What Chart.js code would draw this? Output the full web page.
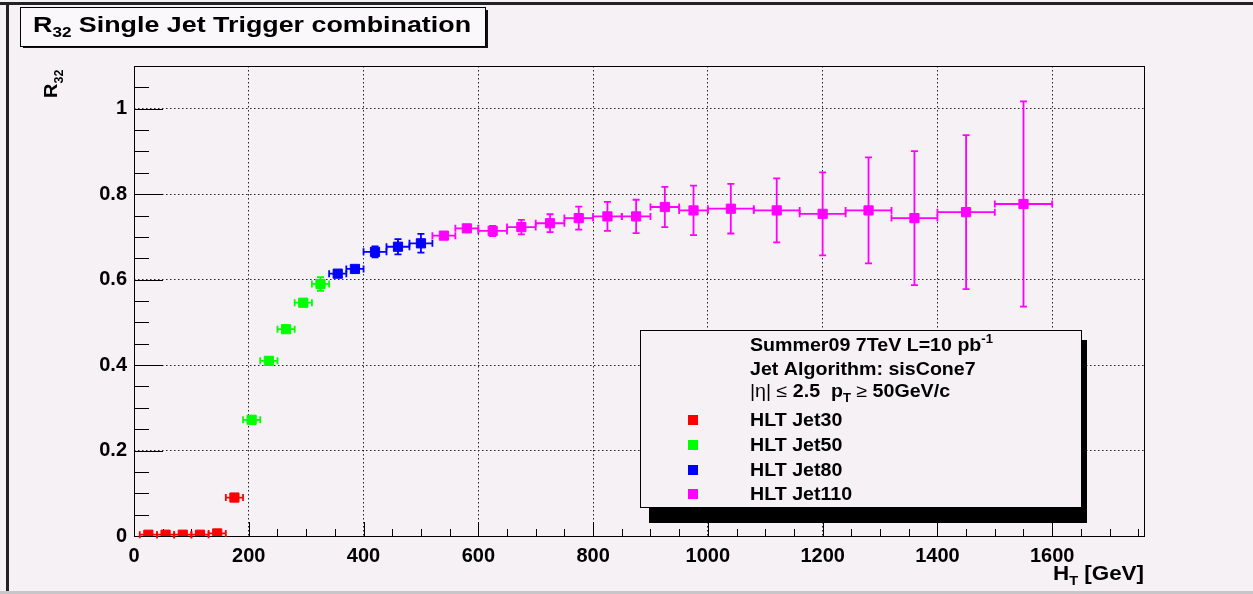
<!DOCTYPE html>
<html>
<head>
<meta charset="utf-8">
<script src="https://cdn.jsdelivr.net/npm/chart.js@4.4.1/dist/chart.umd.min.js"></script>
<style>
  html, body { margin: 0; padding: 0; background: #f5f1f5; }
</style>
</head>
<body>
<canvas id="r32Chart" width="1253" height="594"></canvas>
<script>
const FONT = '"Liberation Sans", Arial, Helvetica, sans-serif';

// HLT Jet30
const jet30X = [25, 55, 85, 115, 145, 175];
const jet30XErr = [15, 15, 15, 15, 15, 15];
const jet30Y = [0.003, 0.003, 0.003, 0.003, 0.006, 0.090];
const jet30YErr = [0.002, 0.002, 0.002, 0.002, 0.003, 0.005];

// HLT Jet50
const jet50X = [205, 235, 265, 295, 325];
const jet50XErr = [15, 15, 15, 15, 15];
const jet50Y = [0.272, 0.410, 0.484, 0.546, 0.590];
const jet50YErr = [0.004, 0.005, 0.006, 0.008, 0.016];

// HLT Jet80
const jet80X = [355, 385, 420, 460, 500];
const jet80XErr = [15, 15, 20, 20, 20];
const jet80Y = [0.614, 0.625, 0.665, 0.677, 0.685];
const jet80YErr = [0.005, 0.008, 0.013, 0.018, 0.022];

// HLT Jet110
const jet110X = [540, 580, 625, 675, 725, 775, 825, 875, 925, 975, 1040, 1120, 1200, 1280, 1360, 1450, 1550];
const jet110XErr = [20, 20, 25, 25, 25, 25, 25, 25, 25, 25, 40, 40, 40, 40, 40, 50, 50];
const jet110Y = [0.703, 0.720, 0.714, 0.723, 0.732, 0.744, 0.748, 0.748, 0.770, 0.762, 0.766, 0.762, 0.754, 0.762, 0.744, 0.758, 0.777];
const jet110YErr = [0.005, 0.010, 0.012, 0.017, 0.021, 0.027, 0.034, 0.039, 0.047, 0.058, 0.058, 0.075, 0.097, 0.124, 0.157, 0.180, 0.240];

const seriesLabels = ['HLT Jet30', 'HLT Jet50', 'HLT Jet80', 'HLT Jet110'];
const seriesColors = ['#ff0000', '#00ff00', '#0000ff', '#ff00ff'];

const xMajorTicks = [0, 200, 400, 600, 800, 1000, 1200, 1400, 1600];
const yMajorTicks = [0, 0.2, 0.4, 0.6, 0.8, 1];
const xMinorStep = 50;
const yMinorStep = 0.05;

function toPoints(xs, xe, ys, ye) {
    return xs.map((x, i) => ({ x: x, y: ys[i], xErr: xe[i], yErr: ye[i] }));
}

// draws a run of text pieces (for sub/superscripts), sx stretches it sideways
function richText(ctx, parts, x, y, align, sx) {
    sx = sx || 1;
    let total = 0;
    parts.forEach(p => {
        ctx.font = `${p.weight || 'bold'} ${p.size}px ${FONT}`;
        p.w = ctx.measureText(p.t).width;
        total += p.w;
    });
    ctx.save();
    ctx.translate(align === 'right' ? x - total * sx : x, y);
    ctx.scale(sx, 1);
    let cx = 0;
    parts.forEach(p => {
        ctx.font = `${p.weight || 'bold'} ${p.size}px ${FONT}`;
        ctx.fillText(p.t, cx, p.dy || 0);
        cx += p.w;
    });
    ctx.restore();
}

const background = {
    id: 'background',
    beforeDraw(chart) {
        const ctx = chart.ctx;
        ctx.save();
        ctx.fillStyle = '#f5f1f5';
        ctx.fillRect(0, 0, chart.width, chart.height);
        ctx.restore();
    }
};

const frameAndTicks = {
    id: 'frameAndTicks',
    beforeDatasetsDraw(chart) {
        const { ctx, chartArea: a, scales: { x, y } } = chart;
        ctx.save();
        ctx.strokeStyle = '#000';
        ctx.lineWidth = 1;
        ctx.beginPath();
        for (let v = 0; v <= x.max; v += xMinorStep) {
            const px = Math.round(x.getPixelForValue(v)) + 0.5;
            const len = v % 200 === 0 ? 14 : 7;
            ctx.moveTo(px, a.bottom);
            ctx.lineTo(px, a.bottom - len);
        }
        for (let i = 0; i * yMinorStep <= y.max + 1e-9; i++) {
            const py = Math.round(y.getPixelForValue(i * yMinorStep)) + 0.5;
            const len = i % 4 === 0 ? 29 : 15;
            ctx.moveTo(a.left, py);
            ctx.lineTo(a.left + len, py);
        }
        ctx.stroke();
        ctx.strokeRect(Math.round(a.left) + 0.5, Math.round(a.top) + 0.5,
            Math.round(a.right - a.left), Math.round(a.bottom - a.top));
        ctx.restore();
    }
};

const errorBars = {
    id: 'errorBars',
    beforeDatasetsDraw(chart) {
        const { ctx, scales: { x, y } } = chart;
        ctx.save();
        ctx.lineWidth = 1.8;
        chart.data.datasets.forEach(ds => {
            ctx.strokeStyle = ds.borderColor;
            ds.data.forEach(p => {
                const cx = x.getPixelForValue(p.x);
                const cy = y.getPixelForValue(p.y);
                const x0 = x.getPixelForValue(p.x - p.xErr);
                const x1 = x.getPixelForValue(p.x + p.xErr);
                const yTop = y.getPixelForValue(p.y + p.yErr);
                const yBot = y.getPixelForValue(p.y - p.yErr);
                ctx.beginPath();
                ctx.moveTo(x0, cy); ctx.lineTo(x1, cy);
                ctx.moveTo(x0, cy - 3.5); ctx.lineTo(x0, cy + 3.5);
                ctx.moveTo(x1, cy - 3.5); ctx.lineTo(x1, cy + 3.5);
                if (cy - yTop > 5) {
                    ctx.moveTo(cx, yTop); ctx.lineTo(cx, yBot);
                    ctx.moveTo(cx - 3.5, yTop); ctx.lineTo(cx + 3.5, yTop);
                    ctx.moveTo(cx - 3.5, yBot); ctx.lineTo(cx + 3.5, yBot);
                }
                ctx.stroke();
            });
        });
        ctx.restore();
    }
};

const decorations = {
    id: 'decorations',
    afterDraw(chart) {
        const ctx = chart.ctx;
        const a = chart.chartArea;
        ctx.save();
        ctx.textBaseline = 'alphabetic';

        // title box
        ctx.fillStyle = '#111';
        ctx.fillRect(23, 10, 465, 38);
        ctx.fillStyle = '#faf8fa';
        ctx.fillRect(20, 7, 465, 39);
        ctx.strokeStyle = '#000';
        ctx.lineWidth = 1;
        ctx.strokeRect(20.5, 7.5, 465, 39);
        ctx.fillStyle = '#000';
        richText(ctx, [
            { t: 'R', size: 22 },
            { t: '32', size: 14, dy: 5 },
            { t: ' Single Jet Trigger combination', size: 22 }
        ], 33, 32, 'left', 1.22);

        // y axis title (rotated)
        ctx.save();
        ctx.translate(57, 98);
        ctx.rotate(-Math.PI / 2);
        richText(ctx, [{ t: 'R', size: 19 }, { t: '32', size: 12, dy: 6 }], 0, 0, 'left', 1.05);
        ctx.restore();

        // x axis title
        richText(ctx, [
            { t: 'H', size: 20 },
            { t: 'T', size: 13, dy: 5 },
            { t: ' [GeV]', size: 20 }
        ], a.right, 580, 'right', 1.12);

        // legend box with shadow
        const lx = 640, ly = 330, lw = 441, lh = 177;
        ctx.fillStyle = '#000';
        ctx.fillRect(lx + 9, ly + 10, lw - 3, lh + 6);
        ctx.fillRect(lx + lw, ly + 10, 6, lh);
        ctx.fillStyle = '#f5f1f5';
        ctx.fillRect(lx, ly, lw, lh);
        ctx.strokeStyle = '#000';
        ctx.strokeRect(lx + 0.5, ly + 0.5, lw, lh);

        ctx.fillStyle = '#000';
        const tx = 750, sx = 1.09;
        richText(ctx, [
            { t: 'Summer09 7TeV L=10 pb', size: 18 },
            { t: '-1', size: 12, dy: -8 }
        ], tx, 351, 'left', sx);
        richText(ctx, [{ t: 'Jet Algorithm: sisCone7', size: 18 }], tx, 375, 'left', sx);
        richText(ctx, [
            { t: '|\u03b7| \u2264 ', size: 18, weight: 'normal' },
            { t: '2.5  p', size: 18 },
            { t: 'T', size: 12, dy: 5 },
            { t: ' \u2265 ', size: 18, weight: 'normal' },
            { t: '50GeV/c', size: 18 }
        ], tx, 397, 'left', sx);

        const rows = [426, 451, 476, 500];
        chart.data.datasets.forEach((ds, i) => {
            ctx.fillStyle = ds.backgroundColor;
            ctx.fillRect(688, rows[i] - 11, 10, 10);
            ctx.fillStyle = '#000';
            richText(ctx, [{ t: ds.label, size: 18 }], tx, rows[i], 'left', sx);
        });

        // outer canvas frame
        ctx.fillStyle = '#222';
        ctx.fillRect(0, 2, chart.width, 3);
        ctx.fillRect(6, 2, 3, chart.height);
        ctx.fillStyle = '#c8c6c8';
        ctx.fillRect(0, 591, chart.width, 3);
        ctx.restore();
    }
};

const ctx = document.getElementById('r32Chart').getContext('2d');
new Chart(ctx, {
    type: 'scatter',
    data: {
        datasets: [
            { label: seriesLabels[0], data: toPoints(jet30X, jet30XErr, jet30Y, jet30YErr) },
            { label: seriesLabels[1], data: toPoints(jet50X, jet50XErr, jet50Y, jet50YErr) },
            { label: seriesLabels[2], data: toPoints(jet80X, jet80XErr, jet80Y, jet80YErr) },
            { label: seriesLabels[3], data: toPoints(jet110X, jet110XErr, jet110Y, jet110YErr) }
        ].map((d, i) => Object.assign(d, {
            backgroundColor: seriesColors[i],
            borderColor: seriesColors[i],
            borderWidth: 1,
            pointStyle: 'rect',
            pointRadius: 6.5,
            showLine: false
        }))
    },
    options: {
        responsive: false,
        animation: false,
        layout: { padding: { top: 66, right: 109, bottom: 0, left: 0 } },
        plugins: {
            legend: { display: false },
            title: { display: false },
            tooltip: { enabled: false }
        },
        scales: {
            x: {
                type: 'linear',
                min: 0,
                max: 1760,
                afterBuildTicks: scale => { scale.ticks = xMajorTicks.map(v => ({ value: v })); },
                afterFit: scale => { scale.height = 58; },
                grid: { color: '#222', lineWidth: 1, drawTicks: false },
                border: { display: false, dash: [1.5, 2.5] },
                ticks: {
                    padding: 8,
                    maxRotation: 0,
                    autoSkip: false,
                    color: '#000',
                    font: { family: FONT, size: 20, weight: 'bold' },
                    callback: v => String(v)
                }
            },
            y: {
                type: 'linear',
                min: 0,
                max: 1.1,
                afterBuildTicks: scale => { scale.ticks = yMajorTicks.map(v => ({ value: v })); },
                afterFit: scale => { scale.width = 134; },
                grid: { color: '#222', lineWidth: 1, drawTicks: false },
                border: { display: false, dash: [1.5, 2.5] },
                ticks: {
                    padding: 7,
                    color: '#000',
                    font: { family: FONT, size: 20, weight: 'bold' },
                    callback: v => String(v)
                }
            }
        }
    },
    plugins: [background, frameAndTicks, errorBars, decorations]
});
</script>
</body>
</html>
